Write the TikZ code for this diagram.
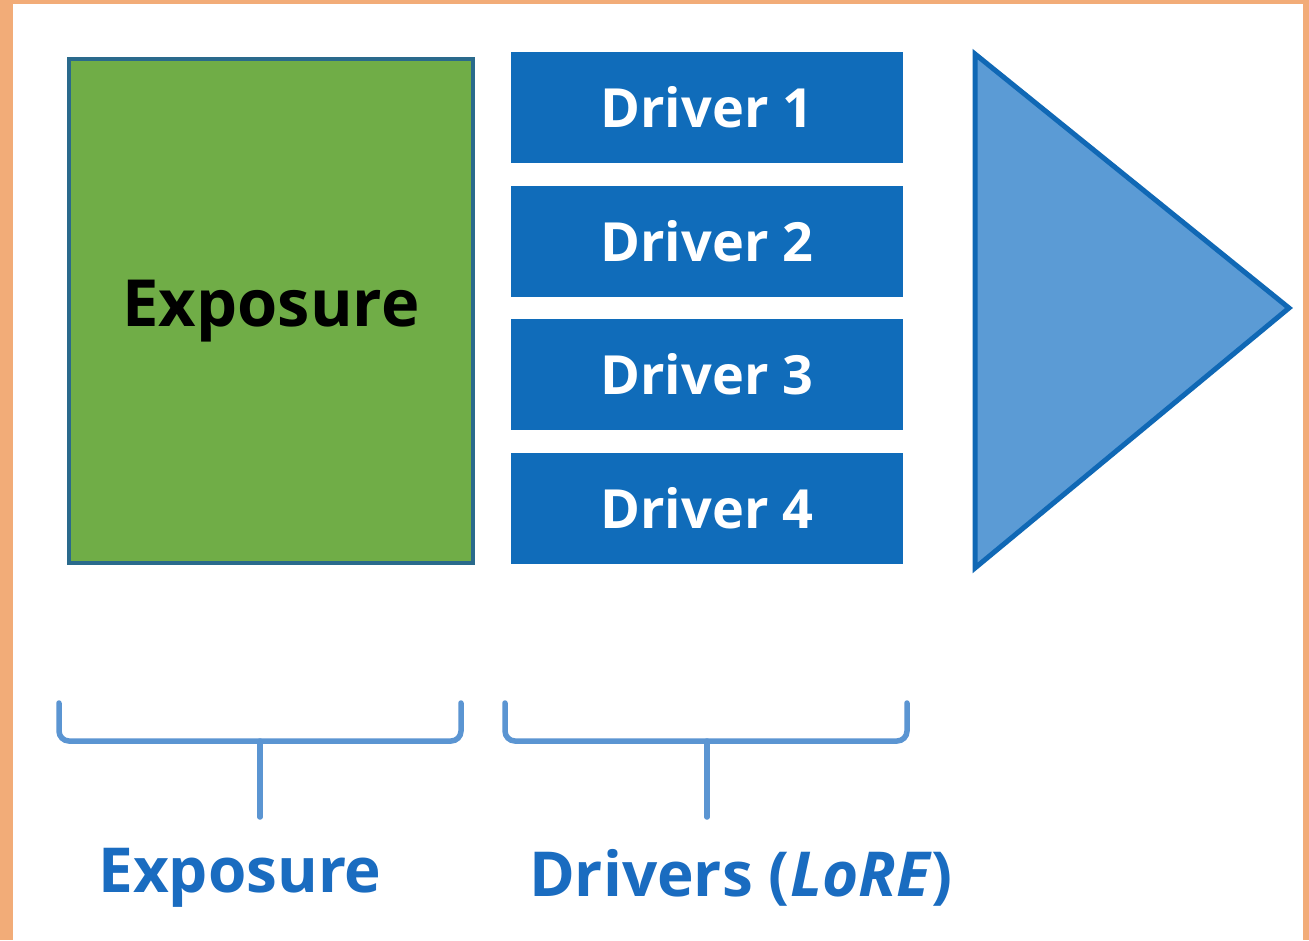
\documentclass[tikz,border=0pt]{standalone}
\usepackage{fontspec}
\setmainfont{Open Sans}
\definecolor{bgorange}{HTML}{F2AC78}
\definecolor{greenfill}{HTML}{70AD47}
\definecolor{greenborder}{HTML}{2A6A8C}
\definecolor{driverblue}{HTML}{106CBA}
\definecolor{tribg}{HTML}{5B9BD5}
\definecolor{triborder}{HTML}{1068B5}
\definecolor{bracketblue}{HTML}{5B95D2}
\definecolor{labelblue}{HTML}{1A6CC0}
\begin{document}
\begin{tikzpicture}[x=1pt,y=-1pt,
  exbox/.style={draw=greenborder,line width=3.5pt,fill=greenfill,minimum width=404pt,minimum height=504pt,inner sep=0pt,
    font=\fontsize{65}{65}\selectfont\bfseries,text=black},
  drvbox/.style={fill=driverblue,minimum width=392pt,minimum height=111pt,inner sep=0pt,
    font=\fontsize{54}{54}\selectfont\bfseries,text=white},
  brack/.style={draw=bracketblue,line width=5.5pt,rounded corners=10pt,line cap=round},
  lbl/.style={font=\fontsize{62}{62}\selectfont\bfseries,text=labelblue,inner sep=0pt}]
\useasboundingbox (0,0) rectangle (1309,940);
\fill[bgorange] (0,0) rectangle (1309,940);
\fill[white] (13,4) rectangle (1303,940);
% exposure box
\node[exbox] (expo) at (271,311) {Exposure};
% drivers
\node[drvbox] (d1) at (707,107.5) {Driver 1};
\node[drvbox] (d2) at (707,241.5) {Driver 2};
\node[drvbox] (d3) at (707,374) {Driver 3};
\node[drvbox] (d4) at (707,508) {Driver 4};
% triangle
\coordinate (ta) at (975,54);
\coordinate (tb) at (1289,308);
\coordinate (tc) at (975,568);
\draw[fill=tribg,draw=triborder,line width=5pt,line join=miter] (ta) -- (tb) -- (tc) -- cycle;
% brackets
\coordinate (b1l) at (59,703);
\coordinate (b1r) at (461,703);
\coordinate (b1m) at (260,741);
\coordinate (b1s) at (260,817);
\draw[brack] (b1l) |- (b1m) -| (b1r);
\draw[brack] (b1m) -- (b1s);
\coordinate (b2l) at (505,703);
\coordinate (b2r) at (907,703);
\coordinate (b2m) at (707,741);
\coordinate (b2s) at (707,817);
\draw[brack] (b2l) |- (b2m) -| (b2r);
\draw[brack] (b2m) -- (b2s);
% labels
\node[lbl] (lexpo) at (240,878) {Exposure};
\node[lbl] (ldrv) at (741,878) {Drivers (\textit{LoRE})};
\end{tikzpicture}
\end{document}
